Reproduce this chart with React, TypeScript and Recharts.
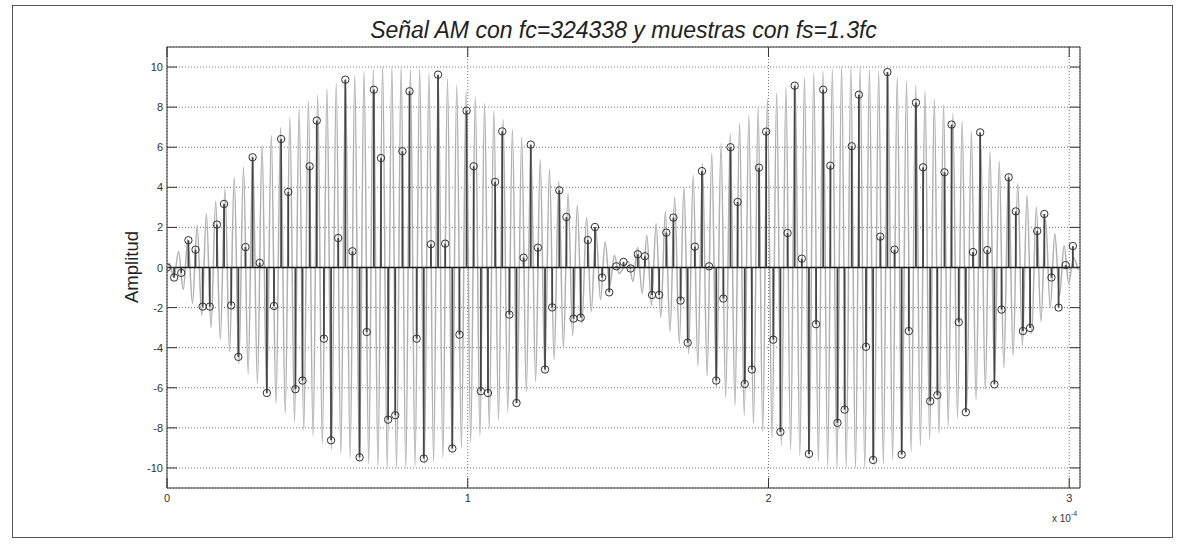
import React from 'react';
import {
  ComposedChart,
  Line,
  Scatter,
  ErrorBar,
  XAxis,
  YAxis,
  CartesianGrid,
  ReferenceLine,
  ReferenceArea,
} from 'recharts';

// ---- data ----
const FC = 324338; // carrier frequency (Hz), from title
const FS_RATIO = 1.3; // fs = 1.3 fc
const X_SCALE = 1e-4; // axis shown in units of 1e-4 s
const X_MAX = 3.0358;

const xTicks = [0, 1, 2, 3];
const yTicks = [-10, -8, -6, -4, -2, 0, 2, 4, 6, 8, 10];

// stem sample values (n = 0..127)
const sampleValues = [
  0, -0.5, -0.27, 1.36, 0.89, -1.95, -1.95, 2.14, 3.17, -1.89,
  -4.46, 1.02, 5.5, 0.23, -6.26, -1.92, 6.41, 3.77, -6.07, -5.64,
  5.05, 7.33, -3.55, -8.62, 1.47, 9.37, 0.81, -9.47, -3.22, 8.87,
  5.46, -7.59, -7.37, 5.8, 8.79, -3.55, -9.53, 1.16, 9.62, 1.19,
  -9.03, -3.35, 7.82, 5.05, -6.17, -6.26, 4.27, 6.79, -2.35, -6.76,
  0.49, 6.13, 0.99, -5.09, -1.99, 3.85, 2.52, -2.55, -2.5, 1.37,
  2.02, -0.5, -1.24, 0.06, 0.28, -0.05, 0.66, 0.56, -1.37, -1.37,
  1.74, 2.49, -1.65, -3.75, 1.04, 4.81, 0.06, -5.64, -1.55, 6.0,
  3.27, -5.81, -5.09, 4.98, 6.78, -3.6, -8.2, 1.72, 9.07, 0.44,
  -9.3, -2.83, 8.87, 5.08, -7.75, -7.09, 6.05, 8.62, -3.96, -9.6,
  1.54, 9.75, 0.89, -9.33, -3.17, 8.22, 5.0, -6.67, -6.37, 4.75,
  7.13, -2.73, -7.22, 0.77, 6.74, 0.87, -5.83, -2.1, 4.5, 2.8,
  -3.17, -3.02, 1.82, 2.67, -0.5, -2.0, 0.12, 1.07,
];

// continuous AM signal: value at each carrier half-cycle extremum
const carrierPeaks = [
  0.2, -0.5, 0.8, -1.1, 1.4, -1.8, 2.1, -2.4, 2.7, -3.0,
  3.3, -3.6, 3.9, -4.2, 4.5, -4.8, 5.0, -5.3, 5.6, -5.8,
  6.1, -6.3, 6.6, -6.8, 7.0, -7.3, 7.5, -7.7, 7.9, -8.1,
  8.3, -8.4, 8.6, -8.8, 8.9, -9.1, 9.2, -9.3, 9.4, -9.5,
  9.6, -9.7, 9.8, -9.8, 9.9, -9.9, 10.0, -10.0, 10.0, -10.0,
  10.0, -10.0, 9.9, -9.9, 9.9, -9.8, 9.7, -9.7, 9.6, -9.5,
  9.4, -9.2, 9.1, -9.0, 8.8, -8.7, 8.5, -8.4, 8.2, -8.0,
  7.8, -7.6, 7.4, -7.2, 6.9, -6.7, 6.5, -6.2, 6.0, -5.7,
  5.4, -5.2, 4.9, -4.6, 4.3, -4.0, 3.7, -3.4, 3.1, -2.8,
  2.5, -2.2, 1.9, -1.6, 1.3, -0.9, 0.6, -0.3, 0.0,
  0.3, -0.7, 1.0, -1.3, 1.6, -1.9, 2.2, -2.5, 2.8, -3.2,
  3.5, -3.8, 4.0, -4.3, 4.6, -4.9, 5.2, -5.4, 5.7, -6.0,
  6.2, -6.5, 6.7, -6.9, 7.2, -7.4, 7.6, -7.8, 8.0, -8.2,
  8.4, -8.5, 8.7, -8.9, 9.0, -9.1, 9.3, -9.4, 9.5, -9.6,
  9.7, -9.7, 9.8, -9.9, 9.9, -10.0, 10.0, -10.0, 10.0, -10.0,
  10.0, -10.0, 9.9, -9.9, 9.8, -9.8, 9.7, -9.6, 9.5, -9.4,
  9.3, -9.2, 9.1, -8.9, 8.8, -8.6, 8.4, -8.3, 8.1, -7.9,
  7.7, -7.5, 7.3, -7.0, 6.8, -6.6, 6.3, -6.1, 5.8, -5.6,
  5.3, -5.0, 4.7, -4.4, 4.2, -3.9, 3.6, -3.3, 3.0, -2.7,
  2.4, -2.0, 1.7, -1.4, 1.1, -0.8, 0.5, -0.1,
];

// ---- time bases ----
const sampleStep = 1 / (FS_RATIO * FC) / X_SCALE;
const halfCarrier = 1 / (2 * FC) / X_SCALE;

// stems: error bar spans from 0 to the sample value
const sampleData = sampleValues.map((v, n) => ({
  t: n * sampleStep,
  v,
  stem: v >= 0 ? [v, 0] : [0, -v],
}));
const carrierData = [{ t: 0, c: 0 }].concat(
  carrierPeaks.map((c, k) => ({ t: (k + 0.5) * halfCarrier, c }))
);

// ---- layout ----
const W = 1181;
const H = 544;
const PLOT_LEFT = 167;
const PLOT_RIGHT = 1080;
const PLOT_TOP = 47;
const PLOT_BOTTOM = 488;
const FONT = '"Liberation Sans", Arial, Helvetica, sans-serif';
const TICK_LEN = 10;

const XTick = (props: any) => {
  const { x, y, payload } = props;
  return (
    <g>
      <line x1={x} x2={x} y1={y} y2={y - TICK_LEN} stroke="#333" strokeWidth={1} />
      <line x1={x} x2={x} y1={PLOT_TOP} y2={PLOT_TOP + TICK_LEN} stroke="#333" strokeWidth={1} />
      <text x={x} y={y + 14} textAnchor="middle" fontSize={11} fill="#333" fontFamily={FONT}>
        {payload.value}
      </text>
    </g>
  );
};

const YTick = (props: any) => {
  const { x, y, payload } = props;
  return (
    <g>
      <line x1={x} x2={x + TICK_LEN} y1={y} y2={y} stroke="#333" strokeWidth={1} />
      <line x1={PLOT_RIGHT - TICK_LEN} x2={PLOT_RIGHT} y1={y} y2={y} stroke="#333" strokeWidth={1} />
      <text x={x - 4} y={y + 4} textAnchor="end" fontSize={11} fill="#333" fontFamily={FONT}>
        {payload.value}
      </text>
    </g>
  );
};

const StemHead = (props: any) => {
  const { cx, cy } = props;
  if (cx == null || cy == null) return null;
  return <circle cx={cx} cy={cy} r={3.7} fill="none" stroke="#333" strokeWidth={1} />;
};

export default function App() {
  return (
    <div style={{ position: 'absolute', left: 0, top: 0, width: W, height: H, background: '#fff' }}>
      <ComposedChart
        width={W}
        height={H}
        data={sampleData}
        margin={{ top: PLOT_TOP, right: W - PLOT_RIGHT, bottom: H - PLOT_BOTTOM - 30, left: 0 }}
      >
        <CartesianGrid stroke="#777" strokeDasharray="1 2" strokeWidth={1} />
        <XAxis
          dataKey="t"
          type="number"
          domain={[0, X_MAX]}
          ticks={xTicks}
          height={30}
          tickSize={0}
          tickMargin={0}
          tickLine={false}
          axisLine={false}
          tick={<XTick />}
          allowDataOverflow
        />
        <YAxis
          type="number"
          domain={[-11, 11]}
          ticks={yTicks}
          width={PLOT_LEFT}
          tickSize={0}
          tickMargin={0}
          tickLine={false}
          axisLine={false}
          tick={<YTick />}
          allowDataOverflow
        />
        <Line
          data={carrierData}
          dataKey="c"
          type="monotone"
          stroke="#b0b0b0"
          strokeWidth={1.5}
          dot={false}
          activeDot={false}
          isAnimationActive={false}
        />
        <ReferenceLine y={0} stroke="#111" strokeWidth={1.5} />
        <Scatter dataKey="v" shape={<StemHead />} isAnimationActive={false}>
          <ErrorBar dataKey="stem" direction="y" width={0} stroke="#444" strokeWidth={1.8} isAnimationActive={false} />
        </Scatter>
        <ReferenceArea x1={0} x2={X_MAX} y1={-11} y2={11} fill="none" stroke="#333" strokeWidth={1} ifOverflow="visible" />
      </ComposedChart>
      <svg
        width={W}
        height={H}
        style={{ position: 'absolute', left: 0, top: 0, pointerEvents: 'none' }}
      >
        <rect x={12.5} y={5.5} width={1160} height={532} fill="none" stroke="#555" strokeWidth={1} />
        <text
          x={(PLOT_LEFT + PLOT_RIGHT) / 2}
          y={38}
          textAnchor="middle"
          fontSize={23}
          fontStyle="italic"
          fill="#222"
          fontFamily={FONT}
        >
          Señal AM con fc=324338 y muestras con fs=1.3fc
        </text>
        <text
          transform="translate(138, 267) rotate(-90)"
          textAnchor="middle"
          fontSize={18.5}
          fill="#222"
          fontFamily={FONT}
        >
          Amplitud
        </text>
        <text x={1052} y={522} fontSize={10} fill="#333" fontFamily={FONT}>
          x 10
          <tspan fontSize={7} dy={-6}>-4</tspan>
        </text>
      </svg>
    </div>
  );
}
